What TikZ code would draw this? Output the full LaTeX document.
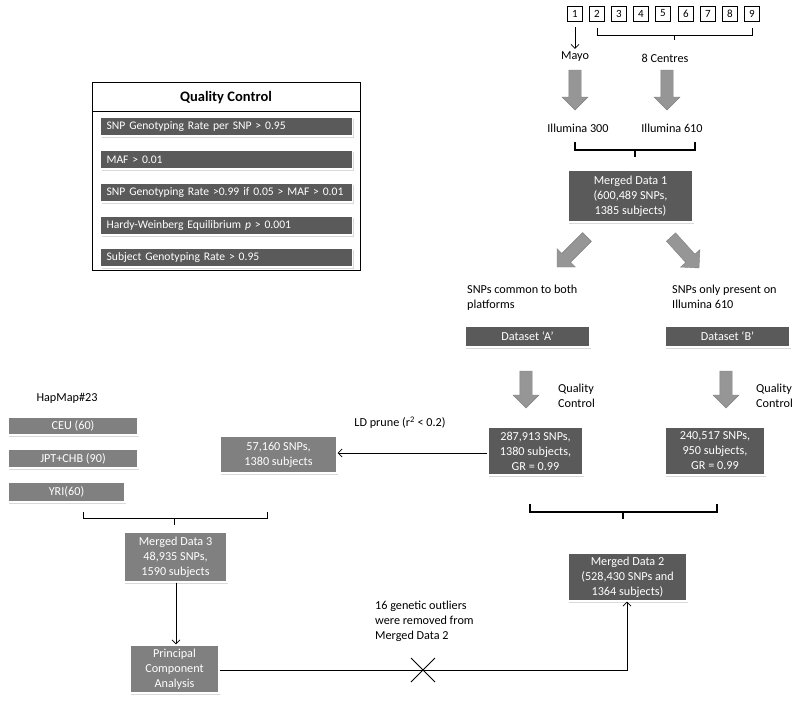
\documentclass[tikz,border=0pt]{standalone}
\usepackage{fontspec}
\setmainfont{Carlito}
\usetikzlibrary{calc,shadows,arrows.meta}
\definecolor{darkbox}{RGB}{90,90,90}
\definecolor{lightbox}{RGB}{128,128,128}
\definecolor{arrowgray}{RGB}{150,150,150}
\newcommand{\barrow}[2]{%
  \coordinate (ba-s) at #1; \coordinate (ba-e) at #2;
  \coordinate (ba-b) at ($(ba-e)!13pt!(ba-s)$);
  \fill[arrowgray,draw=arrowgray!85!black,line width=0.4pt]
    ($(ba-s)!6.2pt!90:(ba-e)$) -- ($(ba-b)!6.2pt!-90:(ba-s)$) -- ($(ba-b)!13pt!-90:(ba-s)$)
    -- (ba-e) -- ($(ba-b)!13pt!90:(ba-s)$) -- ($(ba-b)!6.2pt!90:(ba-s)$)
    -- ($(ba-s)!6.2pt!-90:(ba-e)$) -- cycle;}
\begin{document}
\begin{tikzpicture}[x=1pt,y=-1pt,
  font=\fontsize{12.2}{15}\selectfont,
  boxbase/.style={draw=white,line width=1.2pt,text=white,align=center,inner sep=1pt,
    drop shadow={opacity=0.3,shadow xshift=1pt,shadow yshift=-1.5pt}},
  dbox/.style={boxbase,fill=darkbox},
  lbox/.style={boxbase,fill=lightbox},
  numbox/.style={draw,thin,minimum size=15pt,inner sep=0pt,font=\fontsize{11}{12}\selectfont},
  qcitem/.style={dbox,text width=240pt,align=left,minimum height=19pt,inner xsep=6pt,inner ysep=0pt,anchor=west,font=\fontsize{11.6}{14}\selectfont},
  lbl/.style={inner sep=0pt,align=left},
  thinline/.style={draw,line width=0.8pt},
  thickbr/.style={draw,line width=2.6pt},
  conn/.style={draw,line width=0.8pt,-{Straight Barb[length=4pt,width=8pt]}}]
\useasboundingbox (0,0) rectangle (800,704);

% numbered centres
\node[numbox] (n1) at (575,13.5) {1};
\foreach \i/\x in {2/597,3/619,4/641,5/663,6/686,7/708,8/730,9/752}
  \node[numbox] (n\i) at (\x,13.5) {\i};
\draw[thinline] ($(n2.south)+(0,7)$) -- ($(n2.south)+(0,14)$) -- ($(n9.south)+(0,14)$) -- ($(n9.south)+(0,7)$);
\draw[thinline] (674.5,35) -- (674.5,40);
\node[lbl] (mayo) at (575,57) {Mayo};
\node[lbl] (centres) at (665,58) {8 Centres};
\draw[conn] ($(n1.south)+(0,6)$) -- ($(mayo.north)+(0,-3)$);

\barrow{(575,70)}{(575,110)}
\barrow{(667,70)}{(667,110)}
\node[lbl] (ill300) at (578,128) {Illumina 300};
\node[lbl] (ill610) at (672,128) {Illumina 610};
\draw[thickbr] (575,142) -- (575,150) -- (695,150) -- (695,142);
\draw[thickbr] (635,150) -- (635,157);

\node[dbox,minimum width=125pt,minimum height=52pt] (md1) at (630.5,196) {Merged Data 1\\(600,489 SNPs,\\1385 subjects)};

\barrow{(587,237)}{(557,267)}
\barrow{(671,237)}{(699,268)}

\node[lbl,anchor=north west] (common) at (467,285) {SNPs common to both\\platforms};
\node[lbl,anchor=north west] (only) at (672,285) {SNPs only present on\\Illumina 610};

\node[dbox,minimum width=125pt,minimum height=21pt] (dsA) at (527.5,336.5) {Dataset `A'};
\node[dbox,minimum width=125pt,minimum height=21pt] (dsB) at (727.5,336.5) {Dataset `B'};

\barrow{(526,371)}{(526,408)}
\barrow{(726,371)}{(726,408)}
\node[lbl,anchor=west] (qcA) at (558,396) {Quality\\Control};
\node[lbl,anchor=west] (qcB) at (756,396) {Quality\\Control};

\node[dbox,minimum width=95pt,minimum height=48pt] (qa) at (535.5,451) {287,913 SNPs,\\1380 subjects,\\GR = 0.99};
\node[dbox,minimum width=100pt,minimum height=48pt] (qb) at (715,451) {240,517 SNPs,\\950 subjects,\\GR = 0.99};

\draw[thickbr] (530,504) -- (530,512) -- (717,512) -- (717,504);
\draw[thickbr] (623,512) -- (623,519);

\node[dbox,minimum width=119pt,minimum height=48pt] (md2) at (627.5,577) {Merged Data 2\\(528,430 SNPs and\\1364 subjects)};

% LD prune
\node[lbox,minimum width=117pt,minimum height=37pt] (ld) at (278.5,454.5) {57,160 SNPs,\\1380 subjects};
\draw[conn] (qa.west |- 0,453) -- (ld.east |- 0,453);
\node[lbl] (ldlbl) at (400,423) {LD prune (r\textsuperscript{2} < 0.2)};

% HapMap
\node[lbl] (hap) at (67,398) {HapMap\#23};
\node[lbox,minimum width=130pt,minimum height=18pt] (ceu) at (73,426) {CEU (60)};
\node[lbox,minimum width=130pt,minimum height=19pt] (jpt) at (73,458.5) {JPT+CHB (90)};
\node[lbox,minimum width=117pt,minimum height=20pt] (yri) at (66.5,492) {YRI(60)};
\draw[thinline] (83,512) -- (83,518) -- (267,518) -- (267,512);
\draw[thinline] (174,518) -- (174,525);

\node[lbox,minimum width=103pt,minimum height=50pt] (md3) at (175.5,557) {Merged Data 3\\48,935 SNPs,\\1590 subjects};
\node[lbox,minimum width=89pt,minimum height=48pt] (pca) at (174.5,669) {Principal\\Component\\Analysis};
\draw[conn] (md3.south -| 176,0) -- (pca.north -| 176,0);

\coordinate (corner) at (627,670);
\draw[conn] (pca.east |- corner) -- (corner) -- (md2.south -| corner);
\draw[line width=1pt] (411,658) -- (435,682) (411,682) -- (435,658);
\node[lbl,anchor=north west] (outl) at (375,601) {16 genetic outliers\\were removed from\\Merged Data 2};

% Quality control panel
\draw[line width=0.8pt] (92,82) rectangle (360,270);
\draw[line width=0.8pt] (92,111) -- (360,111);
\node[lbl,font=\fontsize{14.5}{16}\selectfont\bfseries] (qctitle) at (226,98) {Quality Control};
\node[qcitem] (q1) at (100,126.5) {SNP Genotyping Rate per SNP > 0.95};
\node[qcitem] (q2) at (100,159.5) {MAF > 0.01};
\node[qcitem] (q3) at (100,192.5) {SNP Genotyping Rate >0.99 if 0.05 > MAF > 0.01};
\node[qcitem] (q4) at (100,225.5) {Hardy-Weinberg Equilibrium \textit{p} > 0.001};
\node[qcitem] (q5) at (100,257.5) {Subject Genotyping Rate > 0.95};
\end{tikzpicture}
\end{document}
